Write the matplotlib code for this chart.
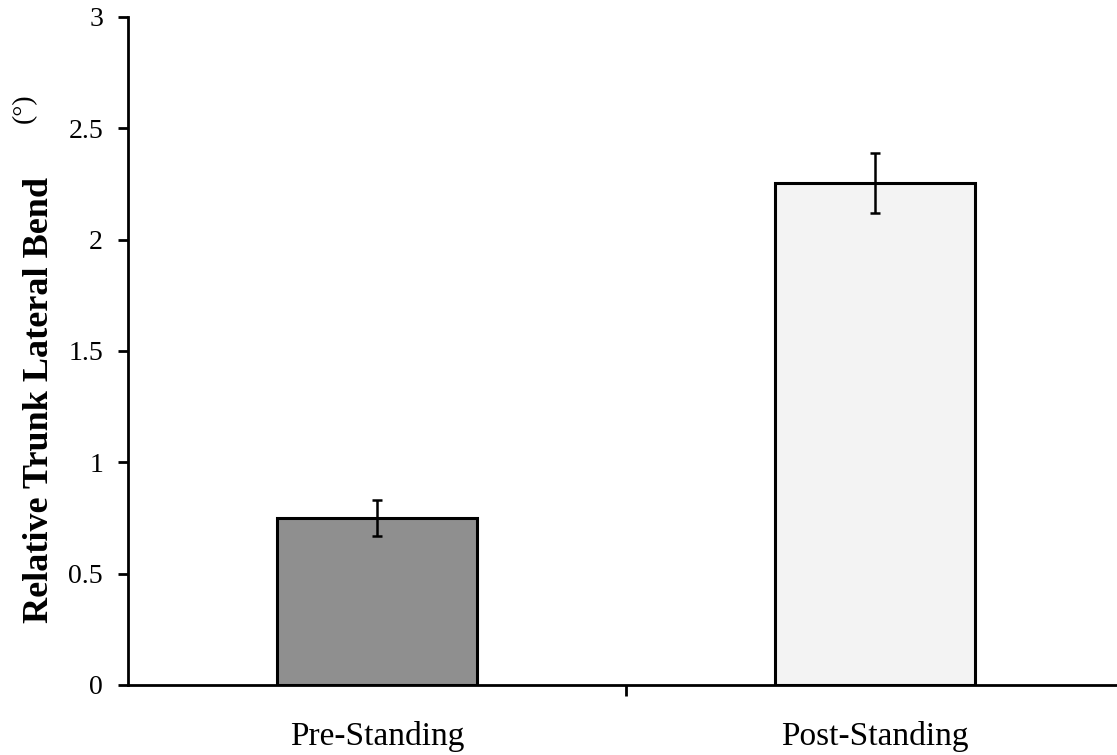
"""Relative trunk lateral bend, pre vs post standing"""
import matplotlib
matplotlib.use('Agg')
import matplotlib.pyplot as plt

conditions = ['Pre-Standing', 'Post-Standing']
bend_deg = [0.75, 2.255]
bend_err = [0.08, 0.133]
bar_colors = ['#8f8f8f', '#f3f3f3']
y_ticks = [0, 0.5, 1, 1.5, 2, 2.5, 3]
y_ticklabels = ['0', '0.5', '1', '1.5', '2', '2.5', '3']

plt.rcParams['font.family'] = ['Liberation Serif', 'DejaVu Serif']

W, H = 1117, 755
fig = plt.figure(figsize=(W / 100, H / 100), dpi=100)
ax = fig.add_axes([128 / W, 70 / H, (W - 128) / W, (685 - 17) / H])

x = range(len(conditions))
ax.bar(x, bend_deg, width=0.4, color=bar_colors, edgecolor='black', linewidth=2.2,
       yerr=bend_err, error_kw=dict(ecolor='black', elinewidth=1.8, capsize=3.5, capthick=1.8),
       zorder=2)

ax.set_xlim(-0.5, 0.5 + (W - 626) / 498)
ax.set_ylim(0, 3)

ax.spines['top'].set_visible(False)
ax.spines['right'].set_visible(False)
ax.spines['left'].set_linewidth(2)
ax.spines['bottom'].set_linewidth(2)

ax.set_yticks(y_ticks)
ax.set_yticklabels(y_ticklabels, fontsize=20)
ax.tick_params(axis='y', direction='out', length=7, width=2, pad=11)

# category divider tick, labels sit on minor ticks
ax.set_xticks([0.5])
ax.set_xticklabels([''])
ax.tick_params(axis='x', which='major', direction='out', length=8, width=2)
ax.set_xticks(list(x), minor=True)
ax.set_xticklabels(conditions, minor=True, fontsize=24)
ax.tick_params(axis='x', which='minor', length=0, pad=26)

fig.text(40 / W, 1 - 400 / H, 'Relative Trunk Lateral Bend', rotation=90,
         fontsize=26, fontweight='bold', ha='center', va='center')
fig.text(24 / W, 1 - 108 / H, '(°)', rotation=90, fontsize=20,
         ha='center', va='center')

plt.savefig('out.png', dpi=100)
